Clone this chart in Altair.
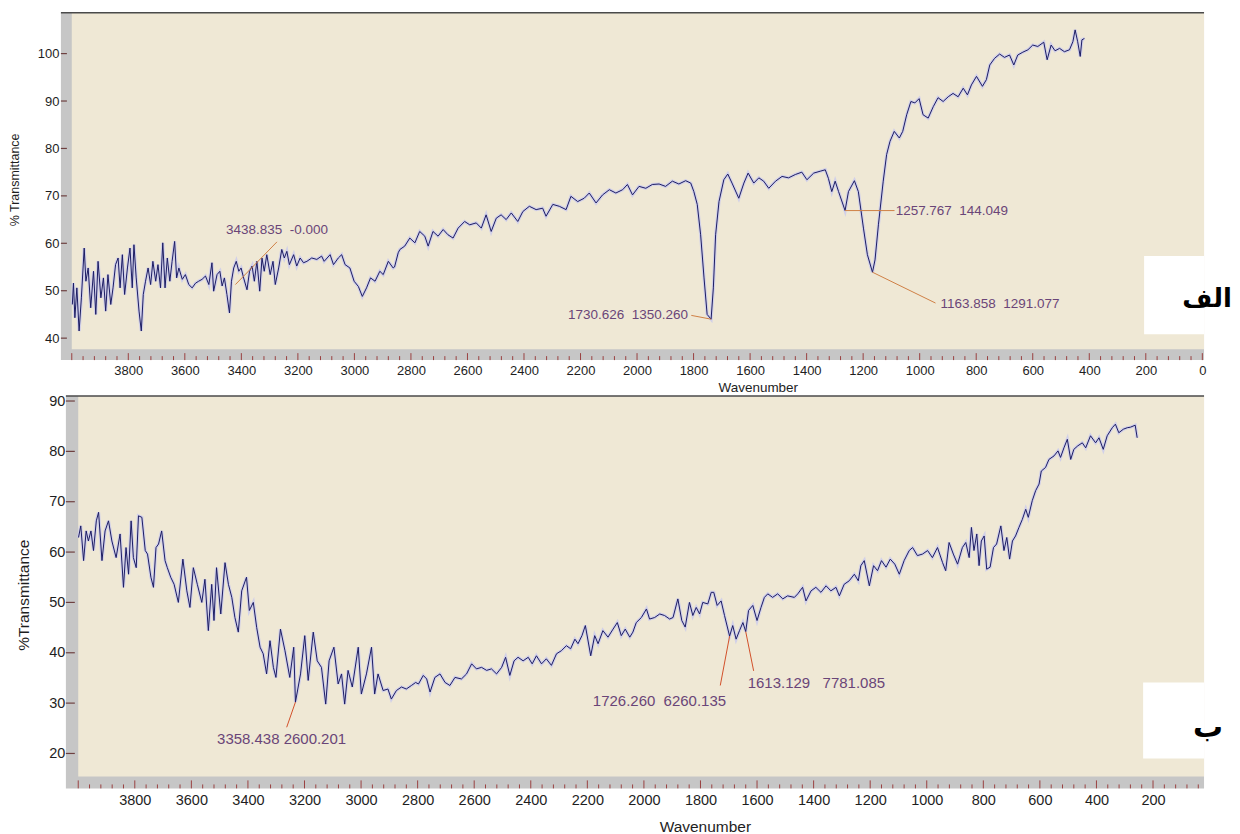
import altair as alt
import pandas as pd

FONT = "Liberation Sans"
NB = "\u00a0"

# ---------------- top spectrum (الف) ----------------
top_wn = [3998, 3994, 3989, 3982, 3974, 3966, 3956, 3950, 3942, 3933, 3923, 3915, 3907, 3897, 3888, 3880,
          3872, 3862, 3854, 3845, 3836, 3829, 3821, 3813, 3803, 3794, 3786, 3780, 3772, 3762, 3754, 3747,
          3739, 3730, 3721, 3713, 3703, 3695, 3686, 3678, 3670, 3662, 3653, 3645, 3636, 3629, 3621, 3609,
          3598, 3586, 3574, 3562, 3551, 3539, 3527, 3515, 3504, 3498, 3486, 3476, 3468, 3460, 3451, 3442,
          3435, 3427, 3418, 3409, 3401, 3392, 3380, 3371, 3362, 3354, 3345, 3335, 3327, 3319, 3310, 3298,
          3288, 3280, 3268, 3257, 3248, 3239, 3230, 3215, 3204, 3192, 3180, 3168, 3151, 3133, 3116, 3107,
          3086, 3074, 3057, 3045, 3033, 3016, 3001, 2986, 2972, 2957, 2943, 2927, 2910, 2898, 2880, 2863,
          2858, 2845, 2839, 2822, 2804, 2786, 2769, 2751, 2739, 2722, 2704, 2686, 2669, 2651, 2633, 2610,
          2592, 2569, 2551, 2534, 2516, 2498, 2481, 2463, 2445, 2422, 2404, 2381, 2357, 2334, 2322, 2298,
          2275, 2251, 2234, 2210, 2187, 2169, 2145, 2122, 2098, 2075, 2051, 2034, 2016, 1993, 1969, 1946,
          1922, 1899, 1875, 1852, 1828, 1810, 1799, 1787, 1775, 1763, 1752, 1738, 1730, 1722, 1710, 1693,
          1679, 1664, 1640, 1622, 1607, 1587, 1569, 1552, 1534, 1510, 1487, 1464, 1440, 1417, 1399, 1375,
          1352, 1334, 1323, 1311, 1299, 1287, 1264, 1252, 1231, 1217, 1199, 1185, 1167, 1158, 1146, 1129,
          1117, 1105, 1090, 1072, 1060, 1046, 1031, 1017, 1002, 988, 970, 952, 935, 917, 899, 882,
          864, 846, 831, 817, 799, 778, 764, 752, 735, 717, 700, 682, 667, 653, 635, 617,
          600, 582, 561, 549, 535, 521, 505, 488, 470, 458, 450, 441, 432, 426, 417]
top_t = [47.1, 51.6, 44.3, 50.6, 41.5, 48.5, 59.0, 52.0, 54.8, 46.4, 54.1, 45.0, 56.2, 48.5, 52.7, 45.7,
         53.4, 47.1, 50.6, 55.5, 56.9, 50.6, 57.6, 49.2, 54.8, 59.0, 50.6, 59.7, 52.7, 45.7, 41.5, 49.2,
         52.0, 54.8, 51.3, 56.2, 52.0, 55.5, 50.6, 60.1, 50.6, 56.9, 52.0, 56.2, 60.4, 52.7, 54.8, 52.4,
         53.4, 51.3, 50.6, 51.6, 52.0, 52.4, 53.1, 51.3, 55.9, 49.9, 53.4, 54.1, 51.0, 52.7, 49.2, 45.3,
         52.0, 54.8, 56.2, 54.1, 54.8, 52.7, 50.2, 54.1, 55.2, 52.0, 56.2, 49.9, 56.9, 54.1, 57.6, 53.4,
         56.2, 51.3, 54.8, 58.7, 56.9, 58.3, 55.5, 57.6, 55.2, 56.9, 55.9, 56.2, 56.9, 56.6, 57.3, 56.2,
         57.6, 55.5, 56.9, 57.6, 55.5, 54.8, 52.0, 50.9, 48.8, 50.6, 52.7, 52.0, 54.1, 53.4, 56.2, 54.8,
         55.0, 58.0, 58.7, 59.4, 61.1, 60.1, 62.5, 61.5, 59.4, 62.5, 61.5, 62.9, 61.8, 61.1, 63.2, 64.6,
         63.9, 64.3, 63.2, 66.0, 62.5, 65.3, 66.0, 65.0, 66.4, 64.6, 66.7, 67.8, 67.1, 67.4, 65.7, 68.2,
         67.8, 67.1, 69.9, 68.8, 69.5, 70.6, 68.5, 70.2, 71.3, 70.6, 71.3, 72.4, 70.2, 72.0, 71.6, 72.4,
         72.5, 72.0, 73.1, 72.5, 73.2, 72.7, 70.9, 68.2, 61.8, 52.7, 45.0, 44.0, 50.6, 61.8, 68.8, 73.4,
         74.6, 72.7, 69.5, 72.7, 74.8, 72.7, 73.8, 73.1, 71.6, 73.1, 74.1, 73.8, 74.5, 75.0, 73.4, 74.8,
         75.2, 75.5, 73.7, 70.9, 73.1, 70.9, 66.9, 70.9, 73.2, 70.9, 63.2, 57.6, 53.9, 56.5, 63.9, 73.1,
         78.7, 81.5, 83.6, 82.2, 83.6, 87.1, 89.9, 89.6, 90.5, 87.1, 86.4, 88.8, 90.7, 89.9, 90.9, 91.6,
         90.9, 92.7, 91.3, 93.4, 95.2, 93.1, 94.5, 97.6, 99.0, 99.9, 99.2, 99.7, 97.6, 99.7, 100.3, 100.8,
         101.8, 101.5, 102.4, 98.7, 101.8, 100.6, 101.1, 100.4, 100.8, 102.5, 105.0, 102.5, 99.4, 102.9, 103.2]

# ---------------- bottom spectrum (ب) ----------------
bot_wn = [3999, 3991, 3981, 3972, 3964, 3955, 3946, 3936, 3928, 3916, 3905, 3893, 3881, 3866, 3852, 3840,
          3831, 3822, 3813, 3805, 3795, 3787, 3775, 3763, 3755, 3743, 3734, 3725, 3716, 3705, 3693, 3685,
          3673, 3661, 3646, 3630, 3616, 3605, 3593, 3579, 3563, 3552, 3540, 3528, 3520, 3511, 3496, 3481,
          3469, 3457, 3446, 3434, 3422, 3405, 3395, 3381, 3369, 3357, 3346, 3334, 3322, 3310, 3301, 3285,
          3269, 3252, 3238, 3232, 3214, 3199, 3187, 3169, 3155, 3140, 3125, 3113, 3096, 3081, 3069, 3058,
          3046, 3031, 3010, 2999, 2981, 2963, 2952, 2940, 2922, 2905, 2893, 2875, 2857, 2840, 2822, 2807,
          2797, 2780, 2768, 2756, 2739, 2721, 2703, 2686, 2668, 2645, 2627, 2609, 2592, 2574, 2556, 2539,
          2521, 2503, 2489, 2474, 2459, 2445, 2427, 2409, 2395, 2380, 2362, 2345, 2327, 2309, 2292, 2274,
          2259, 2244, 2233, 2219, 2207, 2188, 2174, 2162, 2145, 2127, 2109, 2094, 2080, 2066, 2050, 2039,
          2027, 2009, 1991, 1980, 1962, 1944, 1927, 1909, 1897, 1880, 1866, 1854, 1839, 1827, 1815, 1803,
          1792, 1774, 1762, 1753, 1741, 1727, 1715, 1697, 1686, 1674, 1662, 1650, 1640, 1630, 1615, 1600,
          1586, 1574, 1562, 1545, 1527, 1509, 1492, 1468, 1456, 1439, 1427, 1409, 1392, 1374, 1356, 1339,
          1321, 1309, 1292, 1274, 1256, 1242, 1233, 1221, 1203, 1188, 1174, 1160, 1144, 1129, 1113, 1097,
          1080, 1062, 1050, 1033, 1015, 997, 980, 962, 944, 933, 921, 906, 891, 874, 862, 850,
          842, 833, 823, 815, 807, 797, 788, 776, 764, 753, 738, 727, 717, 707, 697, 686,
          674, 662, 650, 641, 627, 615, 603, 595, 580, 568, 550, 536, 527, 515, 503, 491,
          480, 466, 450, 438, 421, 403, 391, 376, 362, 344, 333, 321, 305, 291, 280, 263, 256]
bot_t = [62.9, 65.2, 58.3, 64.2, 62.2, 64.2, 60.3, 66.2, 67.9, 58.3, 64.2, 66.2, 62.2, 58.9, 63.6, 53.0,
         60.9, 55.6, 66.2, 58.9, 56.9, 67.2, 66.9, 60.3, 59.6, 55.0, 53.0, 60.9, 61.6, 64.2, 58.3, 56.9,
         55.0, 53.6, 50.0, 58.6, 52.3, 49.0, 56.9, 53.6, 50.0, 54.6, 44.4, 53.6, 46.4, 56.9, 47.7, 57.9,
         53.6, 51.0, 47.0, 44.1, 52.3, 55.0, 48.4, 50.0, 45.0, 41.1, 39.8, 35.8, 42.4, 37.1, 35.1, 44.7,
         40.4, 35.1, 41.1, 30.2, 35.8, 43.4, 34.5, 44.1, 38.4, 37.1, 29.8, 38.4, 41.1, 33.8, 35.8, 29.8,
         36.5, 33.2, 41.1, 31.8, 35.8, 41.1, 31.8, 35.8, 32.5, 32.8, 30.8, 32.5, 33.2, 32.8, 33.5, 34.1,
         33.8, 35.5, 34.8, 32.2, 35.1, 35.8, 34.1, 33.5, 35.1, 34.8, 35.8, 37.8, 36.8, 37.1, 36.5, 36.8,
         35.8, 37.1, 39.1, 35.5, 38.4, 39.1, 38.4, 39.1, 37.8, 39.4, 37.8, 38.8, 37.5, 39.8, 40.4, 41.4,
         40.8, 42.7, 41.8, 43.4, 45.4, 39.4, 43.4, 41.8, 44.4, 43.1, 44.7, 46.0, 43.4, 44.7, 43.1, 44.1,
         46.0, 47.0, 48.7, 46.7, 47.0, 47.7, 47.4, 46.7, 47.0, 50.7, 46.4, 45.1, 50.0, 47.4, 49.0, 47.7,
         50.0, 49.7, 52.0, 52.0, 49.4, 50.3, 47.4, 43.3, 45.4, 42.7, 44.4, 46.0, 44.2, 48.4, 49.4, 46.4,
         49.0, 51.0, 51.7, 51.0, 51.7, 50.7, 51.3, 51.0, 51.7, 53.0, 50.3, 52.3, 53.0, 52.0, 53.3, 52.3,
         53.0, 51.3, 53.6, 54.3, 55.6, 54.3, 57.3, 58.3, 53.3, 57.3, 56.3, 58.3, 57.0, 58.6, 57.6, 55.6,
         58.3, 60.3, 60.9, 59.3, 59.6, 60.3, 58.9, 60.9, 57.9, 56.3, 61.9, 59.6, 57.6, 60.9, 61.9, 58.9,
         64.9, 60.3, 63.6, 57.3, 62.2, 63.2, 56.6, 57.0, 60.9, 61.6, 65.2, 60.3, 62.9, 58.6, 62.2, 63.2,
         64.9, 66.5, 68.5, 66.9, 70.2, 72.2, 73.5, 76.1, 76.8, 78.4, 79.1, 80.1, 78.8, 80.7, 82.4, 78.4,
         80.4, 81.1, 81.7, 80.7, 83.1, 81.7, 82.7, 80.4, 83.1, 84.7, 85.4, 83.7, 84.4, 84.7, 84.8, 85.2, 82.7]

# ---------------- peak labels ----------------
top_peak_text = ["3438.835" + NB * 2 + "-0.000", "1730.626" + NB * 2 + "1350.260",
                 "1257.767" + NB * 2 + "144.049", "1163.858" + NB * 2 + "1291.077"]
top_peak_from = [(3421, 51.3), (1738, 44.0), (1264, 66.9), (1167, 53.9)]
top_peak_to = [(3274, 60.3), (1808, 44.8), (1089, 66.9), (944, 47.4)]
top_text_pos = [(3274, 62.9, "center"), (1820, 44.8, "right"), (1085, 66.9, "left"), (926, 47.2, "left")]

bot_peak_text = ["3358.438 2600.201", "1726.260" + NB * 2 + "6260.135", "1613.129" + NB * 3 + "7781.085"]
bot_peak_from = [(3232, 30.2), (1697, 43.3), (1640, 44.2)]
bot_peak_to = [(3263, 25.2), (1730, 33.5), (1612, 36.4)]
bot_text_pos = [(3281, 22.8, "center"), (1945, 30.5, "center"), (1633, 33.9, "left")]

# ---------------- axes ----------------
top_y_ticks = [40, 50, 60, 70, 80, 90, 100]
bot_y_ticks = [20, 30, 40, 50, 60, 70, 80, 90]
top_x_labels = list(range(3800, -1, -200))
bot_x_labels = list(range(3800, 199, -200))
major_ticks = list(range(4000, -1, -200))
minor_ticks = [v for v in range(3960, 0, -40) if v % 200 != 0]

BEIGE = "#efe8d5"
GRAY = "#c6c6c6"
LINE = "#1c1c62"
HALO = "#c9c9ee"
TICKC = "#9a4040"
PEAKC_TOP = "#cf7f45"
PEAKC_BOT = "#d2502a"
TXT = "#6a4578"


def panel(p):
    xs = alt.Scale(domain=[p["xr"], p["xl"]], reverse=True, nice=False, zero=False)
    ys = alt.Scale(domain=[p["yb"], p["yt"]], nice=False, zero=False)

    xaxis = alt.Axis(values=p["xlabels"], format="d", title="Wavenumber", ticks=False, domain=False,
                     grid=False, labelFontSize=p["lfs"], labelPadding=p["lpad"], labelFlush=False,
                     labelColor="#1e1e1e", titleColor="#1e1e1e", titleFontSize=p["tfs"],
                     titleFontWeight="normal", titleX=p["xtx"], titleY=p["xty"], titleBaseline="middle",
                     labelFont=FONT, titleFont=FONT)
    yaxis = alt.Axis(values=p["yticks"], format="d", title=p["ytitle"], ticks=False, domain=False,
                     grid=False, labelFontSize=p["lfs"], labelPadding=p["ylpad"], offset=p["yoff"],
                     labelColor="#1e1e1e", titleColor="#1e1e1e", titleFontSize=p["ytfs"],
                     titleFontWeight="normal", titleX=p["ytx"], titleY=p["yty"], titleBaseline="middle",
                     labelFont=FONT, titleFont=FONT)

    def X(f):
        return alt.X(f + ":Q", scale=xs, axis=xaxis, title="Wavenumber")

    def Y(f):
        return alt.Y(f + ":Q", scale=ys, axis=yaxis, title=p["ytitle"])

    rects = pd.DataFrame({
        "x": [p["strip"], 4000, p["box"][0]],
        "x2": [p["xr"], p["xr"], p["xr"]],
        "y": [p["yb"], p["beige_b"], p["box"][1]],
        "y2": [p["yt"], p["yt"], p["box"][2]],
        "c": ["g", "b", "w"],
    })
    bg = alt.Chart(rects).mark_rect(strokeWidth=0).encode(
        x=X("x"), x2="x2:Q", y=Y("y"), y2="y2:Q",
        color=alt.Color("c:N", scale=alt.Scale(domain=["g", "b", "w"], range=[GRAY, BEIGE, "white"]),
                        legend=None),
    )

    border = alt.Chart(pd.DataFrame({"x": [p["strip"]], "x2": [p["xr"]], "y": [p["yt"]]})).mark_rule(
        color="#4a4a4a", strokeWidth=1.5).encode(x=X("x"), x2="x2:Q", y=Y("y"))

    tk = [{"x": v, "y": p["yb"], "y2": p["maj"]} for v in major_ticks if v >= p["xr"]] + \
         [{"x": v, "y": p["yb"], "y2": p["mnr"]} for v in minor_ticks if v >= p["xr"]]
    xticks = alt.Chart(pd.DataFrame(tk)).mark_rule(color=TICKC, strokeWidth=1).encode(
        x=X("x"), y=Y("y"), y2="y2:Q")

    yt = pd.DataFrame({"x": [p["strip"]] * len(p["yticks"]), "x2": [p["dash"]] * len(p["yticks"]),
                       "y": p["yticks"]})
    yticks = alt.Chart(yt).mark_rule(color="#6e4040", strokeWidth=1.2).encode(
        x=X("x"), x2="x2:Q", y=Y("y"))

    spec = pd.DataFrame({"x": p["wn"], "y": p["t"]})
    halo = alt.Chart(spec).mark_line(color=HALO, strokeWidth=3.2, opacity=0.8).encode(
        x=X("x"), y=Y("y"), order="ord:Q").transform_calculate(ord="-datum.x")
    line = alt.Chart(spec).mark_line(color=LINE, strokeWidth=1).encode(
        x=X("x"), y=Y("y"), order="ord:Q").transform_calculate(ord="-datum.x")

    pk = pd.DataFrame({"x": [a[0] for a in p["pfrom"]], "y": [a[1] for a in p["pfrom"]],
                       "x2": [a[0] for a in p["pto"]], "y2": [a[1] for a in p["pto"]]})
    plines = alt.Chart(pk).mark_rule(color=p["pc"], strokeWidth=1).encode(
        x=X("x"), y=Y("y"), x2="x2:Q", y2="y2:Q")

    layers = [bg, border, xticks, yticks, halo, line, plines]
    for al in ["center", "left", "right"]:
        rows = [{"x": pos[0], "y": pos[1], "s": s} for s, pos in zip(p["ptext"], p["ppos"]) if pos[2] == al]
        if rows:
            layers.append(alt.Chart(pd.DataFrame(rows)).mark_text(
                align=al, baseline="middle", font=FONT, fontSize=p["pfs"], color=TXT).encode(
                x=X("x"), y=Y("y"), text="s:N"))

    arab = alt.Chart(pd.DataFrame({"x": [p["ar"][0]], "y": [p["ar"][1]], "s": [p["ar"][2]]})).mark_text(
        align="center", baseline="middle", font="DejaVu Sans", fontWeight="bold", fontSize=p["ar"][3],
        color="black").encode(x=X("x"), y=Y("y"), text="s:N")
    layers.append(arab)

    return alt.layer(*layers).properties(width=p["w"], height=p["h"])


top = panel(dict(
    w=1145, h=348, xl=4038.4, xr=-6.1, yb=35.37, yt=108.63, strip=4038.4, beige_b=37.68,
    box=(206, 40.8, 57.3), maj=36.84, mnr=36.21, dash=4017.2,
    wn=top_wn, t=top_t, xlabels=top_x_labels, yticks=top_y_ticks, ytitle="% Transmittance",
    lfs=13, lpad=4, tfs=13.5, xtx=698, xty=27, ylpad=2, yoff=0, ytfs=12.5, ytx=-46, yty=167,
    pfrom=top_peak_from, pto=top_peak_to, ptext=top_peak_text, ppos=top_text_pos, pc=PEAKC_TOP, pfs=13.5,
    ar=(-17, 48.2, "الف", 26),
))

bottom = panel(dict(
    w=1145, h=393, xl=4061.2, xr=19.6, yb=13.06, yt=90.99, strip=4043.6, beige_b=15.4,
    box=(235, 19.0, 34.1), maj=14.65, mnr=13.85, dash=4012,
    wn=bot_wn, t=bot_t, xlabels=bot_x_labels, yticks=bot_y_ticks, ytitle="%Transmittance",
    lfs=14.5, lpad=5, tfs=15.5, xtx=645, xty=38, ylpad=1, yoff=-5, ytfs=15.5, ytx=-42, yty=199,
    pfrom=bot_peak_from, pto=bot_peak_to, ptext=bot_peak_text, ppos=bot_text_pos, pc=PEAKC_BOT, pfs=15,
    ar=(5.4, 25.0, "ب", 30),
))

chart = alt.vconcat(top, bottom, spacing=36, bounds="flush").properties(
    padding={"left": 1, "top": 3, "right": 0, "bottom": 0},
    background="white",
).configure_view(stroke=None)

chart.save("out.html", embed_options={"renderer": "svg", "actions": False})
